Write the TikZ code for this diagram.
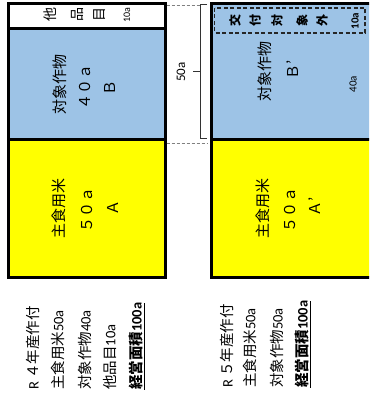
\documentclass[tikz,border=0pt]{standalone}
\usepackage{fontspec}
\setmainfont{Carlito}
\newfontfamily\cj{Noto Sans CJK JP}
\definecolor{boxblue}{HTML}{9DC3E6}
\definecolor{boxyellow}{HTML}{FFFF00}
\begin{document}
\begin{tikzpicture}[x=1pt,y=-1pt,
  frame/.style={line width=3pt},
  rt/.style={rotate=90, inner sep=0pt},
  big/.style={rt, font=\fontsize{15}{15}\selectfont\cj},
  mid/.style={rt, font=\fontsize{14}{14}\selectfont\cj},
  small/.style={rt, font=\fontsize{10}{10}\selectfont},
  tag/.style={rt, font=\fontsize{12}{12}\selectfont\cj\bfseries},
  legend/.style={rt, anchor=west, font=\fontsize{14.5}{14.5}\selectfont},
  guide/.style={gray, line width=0.9pt, dash pattern=on 3pt off 2pt},
  brace/.style={line width=1pt, black!80}]
\useasboundingbox (0,0) rectangle (369,403);
\clip (0,0) rectangle (369,403);
\fill[white] (0,0) rectangle (369,403);

% left box (R4)
\fill[boxblue] (8,29) rectangle (165,140);
\fill[boxyellow] (8,140) rectangle (165,277);
\draw[frame] (8,4) rectangle (165,277);
\draw[frame] (8,29) -- (165,29);
\draw[frame] (8,140) -- (165,140);

% right box (R5)
\fill[boxblue] (211.5,4) rectangle (375,140);
\fill[boxyellow] (211.5,140) rectangle (375,277);
\draw[frame] (211.5,4) rectangle (375,277);
\draw[frame] (211.5,140) -- (375,140);
\draw[line width=1.5pt, black!85, dash pattern=on 4pt off 2.5pt] (214.5,8) rectangle (365,33);

% left box texts
\node[mid] (l1) at (50,15) {他};
\node[mid] (l2) at (77,15) {品};
\node[mid] (l3) at (100,15) {目};
\node[small] (l4) at (127,15) {10a};
\node[big] (lb1) at (60,85) {対象作物};
\node[big] (lb2) at (85,87) {４０ａ};
\node[big] (lb3) at (110,88) {Ｂ};
\node[big] (ly1) at (59,208) {主食用米};
\node[big] (ly2) at (87,210) {５０ａ};
\node[big] (ly3) at (113,208) {Ａ};

% right box texts
\node[tag] (t1) at (235,21) {交};
\node[tag] (t2) at (255,21) {付};
\node[tag] (t3) at (277,21) {対};
\node[tag] (t4) at (302,21) {象};
\node[tag] (t5) at (322,21) {外};
\node[rt, font=\fontsize{11}{11}\selectfont\bfseries] (t6) at (355,21) {10a};
\node[big] (rb1) at (265,72) {対象作物};
\node[big] (rb2) at (293,70) {Ｂ’};
\node[rt, font=\fontsize{11}{11}\selectfont] (rb3) at (353,84) {40a};
\node[big] (ry1) at (263,208) {主食用米};
\node[big] (ry2) at (290,210) {５０ａ};
\node[big] (ry3) at (315,207) {Ａ’};

% bracket and guides
\coordinate (gl1) at (166.5,5);
\coordinate (gr1) at (200,5);
\coordinate (gl2) at (166.5,143);
\coordinate (gr2) at (208,143);
\draw[guide] (gl1) -- (gr1);
\draw[guide] (gl2) -- (gr2);
\coordinate (bt) at (207,5);
\coordinate (bb) at (207,139);
\coordinate (bm) at (200,72);
\coordinate (bn) at (193,72);
\draw[brace] (bt) -- (200,5) -- (200,139) -- (bb);
\draw[brace] (bm) -- (bn);
\node[rt, font=\fontsize{13}{13}\selectfont] (fifty) at (181,72) {50a};

% legend left
\node[legend] (a1) at (33,390) {R {\cj ４年産作付}};
\node[legend] (a2) at (58,390) {{\cj 主食用米}50a};
\node[legend] (a3) at (85,390) {{\cj 対象作物}40a};
\node[legend] (a4) at (110,390) {{\cj 他品目}10a};
\node[legend] (a5) at (137,390) {\bfseries\underline{{\cj\bfseries 経営面積}100a}};

% legend right
\node[legend] (b1) at (227,388) {R {\cj ５年産作付}};
\node[legend] (b2) at (250,388) {{\cj 主食用米}50a};
\node[legend] (b3) at (277,388) {{\cj 対象作物}50a};
\node[legend] (b4) at (303,388) {\bfseries\underline{{\cj\bfseries 経営面積}100a}};
\end{tikzpicture}
\end{document}
